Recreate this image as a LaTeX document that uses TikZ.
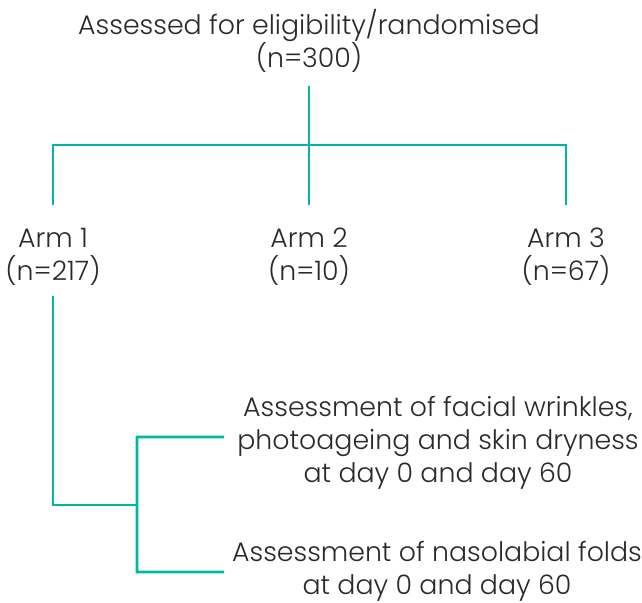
\documentclass[tikz,border=0pt]{standalone}
\usepackage{fontspec}
\setmainfont{Poppins}[UprightFont=* Light]
\definecolor{teal1}{HTML}{00B8A2}
\definecolor{txt}{HTML}{2A2A2A}
\begin{document}
\begin{tikzpicture}[x=1bp,y=-1bp,
  lbl/.style={align=center,text=txt,inner sep=0pt,font=\fontsize{26.8bp}{33bp}\selectfont},
  conn/.style={draw=teal1,line width=2.6bp}]
\useasboundingbox (0,0) rectangle (642,603);
\node[lbl] (title) at (309,41) {Assessed for eligibility/randomised\\(n=300)};
\node[lbl] (arm1) at (53,257) {Arm 1\\(n=217)};
\node[lbl] (arm2) at (309,257) {Arm 2\\(n=10)};
\node[lbl] (arm3) at (566,257) {Arm 3\\(n=67)};
\node[lbl] (out1) at (438,443) {Assessment of facial wrinkles,\\photoageing and skin dryness\\at day 0 and day 60};
\node[lbl] (out2) at (437,571) {Assessment of nasolabial folds\\at day 0 and day 60};
\coordinate (ttop) at (309,86);
\coordinate (a1t) at (53,205);
\coordinate (a2t) at (309,205);
\coordinate (a3t) at (566,205);
\coordinate (a1b) at (53,296);
\coordinate (j) at (53,505);
\coordinate (o1) at (224,437);
\coordinate (o2) at (224,572);
\draw[conn] (ttop) -- (a2t);
\draw[conn] (a1t) -- (a1t |- 0,145) -- (a3t |- 0,145) -- (a3t);
\draw[conn] (a1b) -- (j) -- ++(84,0);
\draw[conn] (o1) -- ++(-87,0) -- ([xshift=-87bp]o2) -- (o2);
\end{tikzpicture}
\end{document}
